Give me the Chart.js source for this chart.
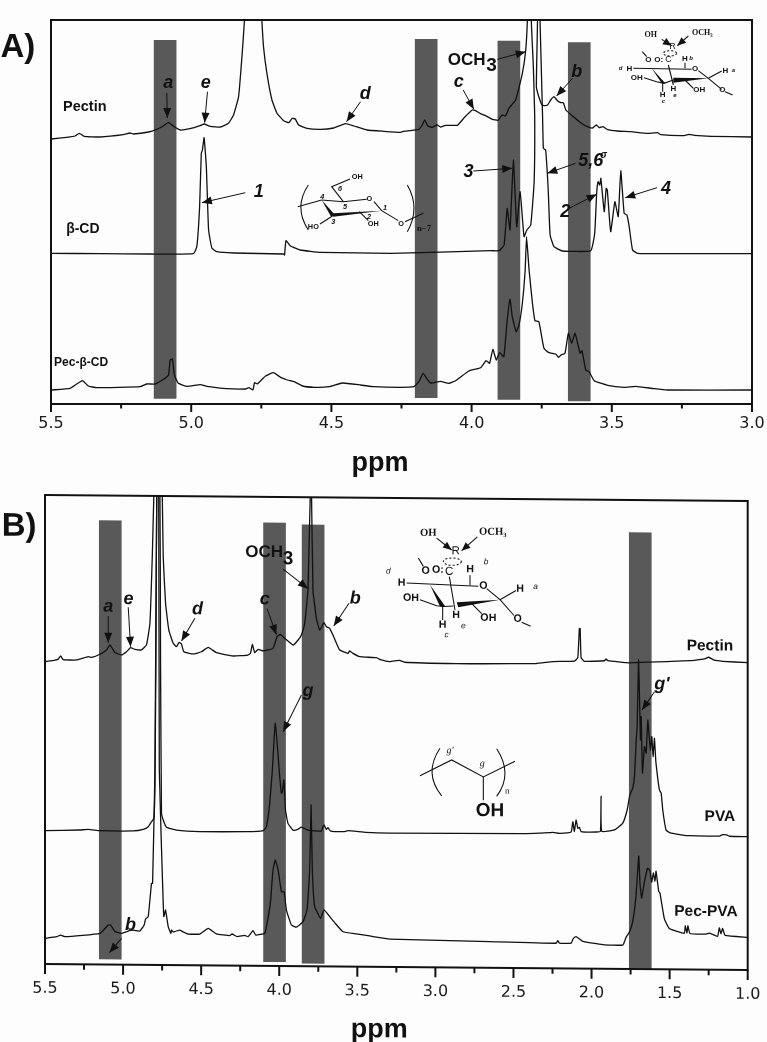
<!DOCTYPE html>
<html>
<head>
<meta charset="utf-8">
<title>1H NMR spectra</title>
<script src="https://cdn.jsdelivr.net/npm/chart.js@4/dist/chart.umd.min.js"></script>
<style>
  html, body { margin: 0; padding: 0; background: #fdfdfd; overflow: hidden; }
  body { width: 767px; height: 1042px; position: relative; }
  canvas { position: absolute; left: 0; }
  #panelA { top: 0; }
  #panelB { top: 490px; }
</style>
</head>
<body>
<canvas id="panelA" width="767" height="490"></canvas>
<canvas id="panelB" width="767" height="552"></canvas>
<script>
// panel A: chemical shift (ppm) and trace height
const aPectinPpm = [5.498,5.444,5.414,5.399,5.382,5.325,5.242,5.218,5.206,5.152,5.123,5.099,5.081,5.063,5.039,5.004,4.968,4.954,4.932,4.896,4.867,4.849,4.831,4.819,4.810,4.795,4.765,4.748,4.742,4.730,4.712,4.694,4.670,4.652,4.640,4.629,4.617,4.587,4.539,4.492,4.450,4.420,4.373,4.313,4.254,4.242,4.188,4.176,4.167,4.156,4.140,4.123,4.111,4.093,4.051,4.025,3.998,3.986,3.970,3.950,3.926,3.906,3.891,3.879,3.867,3.843,3.819,3.807,3.801,3.795,3.772,3.765,3.769,3.760,3.748,3.730,3.718,3.706,3.694,3.682,3.673,3.664,3.640,3.611,3.587,3.569,3.555,3.545,3.531,3.515,3.480,3.432,3.373,3.337,3.325,3.242,3.224,3.206,3.146,3.0];
const aPectinInt = [265,266.7,268,270.7,267.7,267,269.3,271,270,272,274.7,278,281.7,277.7,274,275.3,278.3,280,277.7,277,280.7,289,307.3,347.3,384,480,480,384,357,330.7,304,290.7,283.3,281.3,285.7,285,279,275.7,274.7,276,280.3,278,274,272.7,271.7,272.7,274.7,279,284,278,276.7,279,277,278.7,278.7,286.7,294,293.3,290.7,288.3,284.7,283.7,289,288,295.7,304,330.7,354,384,450,450,384,317.3,307,298.7,298.7,304,307.3,303.3,301.3,301.3,294,288,281.3,277.3,276,279,276.3,277.3,274.3,273,272.3,270.7,271.3,269.3,268.3,269.7,268.7,267.7,267];

const aCdPpm = [5.498,5.325,5.146,4.992,4.980,4.970,4.964,4.960,4.954,4.946,4.938,4.926,4.908,4.849,4.670,4.667,4.662,4.646,4.611,4.539,4.289,3.932,3.902,3.884,3.873,3.863,3.851,3.839,3.827,3.813,3.803,3.789,3.777,3.775,3.78,3.787,3.78,3.762,3.756,3.747,3.744,3.736,3.727,3.72,3.706,3.676,3.575,3.561,3.554,3.549,3.543,3.539,3.527,3.520,3.516,3.504,3.489,3.477,3.468,3.456,3.446,3.438,3.426,3.408,3.337,3.0];
const aCdInt = [150.7,150.3,150,150.3,157.3,197.3,250.7,254,266.3,237.3,174,155.7,152.3,151,150,149,163.3,158,154,151.7,150.7,153.3,153.3,159,195.7,174,244,177.3,212.3,167.3,174,179,222,289,339,384,450,450,384,289,255.7,254,215.7,169,157.3,153,153.3,170.7,210.7,222.3,219,225.7,192.3,215.7,214,172.3,202.3,187.3,233.3,190.7,189,177.3,154,150.7,150.3,150.3];

const aPecCdPpm = [5.498,5.432,5.408,5.388,5.367,5.337,5.182,5.158,5.129,5.099,5.081,5.075,5.067,5.060,5.046,5.015,4.968,4.944,4.873,4.806,4.794,4.780,4.774,4.764,4.735,4.707,4.681,4.657,4.633,4.603,4.561,4.508,4.461,4.396,4.349,4.254,4.206,4.188,4.173,4.158,4.146,4.111,4.081,4.057,4.010,3.968,3.948,3.936,3.924,3.912,3.900,3.885,3.873,3.863,3.855,3.841,3.831,3.819,3.809,3.804,3.795,3.783,3.774,3.760,3.742,3.724,3.700,3.690,3.680,3.667,3.655,3.643,3.631,3.613,3.606,3.593,3.581,3.563,3.515,3.456,3.414,3.349,3.301,3.0];
const aPecCdInt = [14,15.7,20,23.3,18,16.3,17.3,20,20,24.7,29,44,45,29,20.7,17.7,19.3,17.7,15.3,15,16.3,14,21.3,20,28,31.3,26.7,24,22.3,18,16.7,17.3,21,19,17.3,16.7,17.3,22.3,30.7,24.7,21,22.7,20.7,23.3,33,36.3,43.3,40.7,54.7,44,51.3,47.3,84,104.7,87.3,72.3,79,100.7,134,167.3,134,100.7,83.3,82.3,55.7,51.3,50,46.7,49.3,50.7,70.7,60.7,70.7,50.7,53.3,34,32.3,23.3,18.7,16.7,17.7,15.3,14,14];

// panel B
const bPectinPpm = [5.5,5.436,5.415,5.40,5.383,5.297,5.223,5.2,5.148,5.106,5.084,5.052,5.01,4.978,4.952,4.924,4.882,4.85,4.828,4.813,4.803,4.79,4.765,4.749,4.743,4.728,4.707,4.679,4.658,4.641,4.626,4.611,4.551,4.498,4.455,4.402,4.295,4.2,4.184,4.172,4.157,4.135,4.104,4.04,4.014,3.993,3.965,3.911,3.879,3.858,3.837,3.816,3.8,3.794,3.784,3.762,3.741,3.713,3.698,3.677,3.656,3.613,3.56,3.549,3.528,3.485,3.378,3.346,3.293,3.25,3.229,3.197,2.867,2.685,2.355,2.248,2.109,2.088,2.078,2.073,2.067,2.046,1.918,1.907,1.896,1.758,1.374,1.331,1.278,1.25,1.214,1.161,1.0];
const bPectinInt = [302.3,304,305,308.2,304.5,304.3,307.7,307,310.2,314.5,319.6,312,309.7,313,317,315.4,315,320,341.6,408.2,469,520,520,469,408.3,361.7,335,321.8,318.4,322.8,321.2,313.5,311.3,313.6,318,312.8,309.6,310.7,312.4,321.5,313.1,316.5,314.9,317.6,329.3,331.7,327.7,321.1,326.2,331.2,342.9,376.2,480,480,376.3,348,336.3,343.7,339.7,338.1,331.5,316.5,313.3,315.6,313.3,310,309.1,306.9,305.3,306.3,306.7,304.8,303.8,304,304.7,306.7,307.5,311,340,340,311,307.3,308,309.8,308.1,306.2,308.8,309.5,310.7,312.4,309.5,308.5,307.3];

const bPvaPpm = [5.5,5.276,5.223,5.148,4.935,4.871,4.839,4.818,4.803,4.796,4.79,4.783,4.765,4.76,4.754,4.743,4.722,4.658,4.509,4.21,4.103,4.082,4.061,4.044,4.025,3.997,3.986,3.98,3.97,3.96,3.944,3.912,3.881,3.858,3.816,3.73,3.72,3.713,3.698,3.688,3.671,3.581,3.56,3.442,3.293,2.44,2.334,2.248,2.206,2.131,2.12,2.11,2.099,2.088,2.078,2.067,1.971,1.943,1.939,1.935,1.853,1.8,1.772,1.757,1.746,1.736,1.725,1.714,1.708,1.699,1.691,1.687,1.682,1.674,1.661,1.65,1.64,1.623,1.614,1.606,1.597,1.589,1.58,1.572,1.565,1.554,1.544,1.523,1.501,1.416,1.374,1.182,1.161,1.135,1.118,1.0];
const bPvaInt = [133.3,134.3,135,133.8,133.8,135.5,138.2,143.2,146.5,178,300,500,500,300,151.7,145,137.7,135,133.7,134,135.2,139.2,162.6,196,242.7,189.3,172.7,174.3,186,156,142.7,136,136.8,139,136.2,135.3,139.7,141.4,137,138.7,135.4,135,136,134.4,133.9,134.4,135,136,135.1,136.5,146.9,137,148.5,140.2,141.3,137,136.7,137.5,172.5,137.5,138.9,145.8,159,172.4,177.4,180.7,192.4,228.9,242.4,309.1,259.1,229.1,252.5,195.9,222.5,215.9,249.2,219.2,232.6,212.6,230.9,209.2,195.9,185.9,179.3,176,159.3,139.3,136.8,134.4,133.8,133.7,135.1,134.9,133.6,133.3];

const bPecPvaPpm = [5.5,5.425,5.4,5.372,5.148,5.095,5.08,5.052,5.01,4.967,4.946,4.892,4.865,4.856,4.839,4.818,4.811,4.796,4.783,4.772,4.768,4.743,4.739,4.728,4.711,4.694,4.69,4.679,4.636,4.619,4.583,4.509,4.455,4.402,4.317,4.302,4.27,4.221,4.2,4.168,4.15,4.093,4.082,4.057,4.04,4.025,4.007,3.986,3.969,3.954,3.922,3.89,3.848,3.822,3.805,3.796,3.788,3.773,3.735,3.713,3.677,3.645,3.592,3.506,3.421,3.293,2.653,2.227,2.216,2.206,2.131,2.116,2.099,2.056,1.928,1.8,1.779,1.758,1.737,1.715,1.698,1.69,1.679,1.662,1.641,1.626,1.615,1.604,1.594,1.587,1.57,1.562,1.534,1.502,1.406,1.4,1.389,1.383,1.37,1.267,1.246,1.193,1.182,1.171,1.161,1.144,1.0];
const bPecPvaInt = [25.7,27.4,29.1,27.5,31.2,39.5,39.6,33,31.3,33.7,34.7,33.8,39.8,45.8,48.2,81.6,81.6,195,500,500,195,61.7,48.4,55,38.4,31.8,35.1,33.1,35.1,33.5,31.2,31.3,37.1,31.5,30,31.6,29,30.4,29,35.1,30.8,32.5,39.2,62.6,95.9,106,96,74.3,74.4,56,41.1,39,44.5,56.2,96.2,161.3,96.3,59.6,48,56.4,49.8,43.8,34.8,32.7,30.8,27.9,26.1,25.1,27.8,25.2,25.3,30.2,32,27.3,24.1,23.9,31.6,36.7,46.8,73.6,113,85.8,70.8,86.8,100.8,98.5,87,96.2,88,98,78,76.3,50.7,40.8,36.2,43.9,36.2,44,36,35.5,36.5,33.4,41.9,36,41.3,34.4,32.7];

// shaded bands: centre ppm, low, high
const aBandPpm = [5.093, 4.162, 3.867, 3.616];
const aBandLow = [5.7, 6.3, 4.7, 3];
const aBandHigh = [363.7, 364.7, 363, 361.3];
const bBandPpm = [5.082, 4.03, 3.783, 1.688];
const bBandLow = [5.5, 4.3, 3, 0];
const bBandHigh = [443.8, 443, 441.3, 436.3];

const SANS = '"Liberation Sans", Arial, sans-serif';
const SERIF = '"Liberation Serif", serif';
const PEAK = 'italic bold 18px ' + SANS;

// text, ppm, height, font, align
const aLabels = [
  ['A)', 5.618, 356, 'bold 33px ' + SANS],
  ['Pectin', 5.457, 297, 'bold 14.5px ' + SANS, 'left'],
  ['β-CD', 5.446, 175, 'bold 14px ' + SANS, 'left'],
  ['Pec-β-CD', 5.489, 41.3, 'bold 12px ' + SANS, 'left'],
  ['a', 5.082, 321, PEAK], ['e', 4.948, 321, PEAK], ['d', 4.379, 310, PEAK],
  ['1', 4.759, 212, PEAK], ['c', 4.046, 322, PEAK], ['b', 3.625, 332, PEAK],
  ['3', 4.011, 232, PEAK], ['5,6', 3.575, 243, PEAK], ['σ', 3.529, 249, 'italic bold 10px ' + SANS],
  ['2', 3.666, 192, PEAK], ['4', 3.307, 215, PEAK],
  ['OCH', 4.018, 344, 'bold 17px ' + SANS], ['3', 3.929, 338, 'bold 19px ' + SANS],
  ['ppm', 4.327, -60, 'bold 27px ' + SANS]
];
const bLabels = [
  ['B)', 5.666, 437, 'bold 33px ' + SANS],
  ['a', 5.095, 358, PEAK], ['e', 4.965, 365.7, PEAK], ['d', 4.523, 356, PEAK],
  ['c', 4.093, 366.5, PEAK], ['b', 3.513, 368, PEAK], ['g', 3.816, 275.2, PEAK],
  ["g'", 1.549, 284.9, PEAK], ['b', 4.952, 39.7, PEAK],
  ['OCH', 4.097, 413.5, 'bold 17px ' + SANS], ['3', 3.943, 407, 'bold 19px ' + SANS],
  ['Pectin', 1.242, 323.6, 'bold 15.5px ' + SANS],
  ['PVA', 1.178, 153, 'bold 15.5px ' + SANS],
  ['Pec-PVA', 1.267, 57.9, 'bold 15.5px ' + SANS],
  ['ppm', 3.36, -63, 'bold 27px ' + SANS]
];

// ppm from, height from, ppm to, height to
const aArrows = [
  [5.087,311,5.085,286],[4.942,312.3,4.952,281.3],[4.396,302.3,4.446,282.3],
  [4.807,211.3,4.962,201.3],[3.908,344.7,3.807,352.3],[4.03,314,3.992,294.7],
  [3.64,325.7,3.697,308],[3.994,233,3.855,235.7],[3.629,240.7,3.73,230.7],
  [3.652,195.7,3.554,209.7],[3.339,216.3,3.452,206.3]
];
const bArrows = [
  [5.095,348.5,5.095,321.8],[4.967,357.4,4.952,318],[4.54,347,4.626,324.2],
  [4.078,357.2,4.018,331.3],[3.975,397,3.816,377.6],[3.553,363.3,3.651,340.5],
  [3.858,271.2,3.975,234.3],[1.598,277.2,1.677,259.1],[5.01,26.3,5.088,11.9]
];

// structure sketches, in 1/3 pixel units
const cdFont = 'bold 22px ' + SANS, cdNum = 'italic bold 22px ' + SANS;
const cdSketch = {
  at: [0, 0],
  lines: [[893,620,965,600],[965,600,1030,605,1100,598],[1122,605,1145,632,1195,662],[1002,645,960,672],
    [1078,635,1105,662],[1030,605,995,560,1050,537],[1215,665,1270,640]],
  curves: [[925,555,880,622,925,690],[1222,555,1262,625,1222,695]],
  wedges: [[965,600,1008,648,992,648],[1000,640,1145,632,1000,650]],
  texts: [['OH',1072,532,cdFont],['HO',940,680,cdFont],['OH',1120,672,cdFont],['O',1108,598,cdFont],['O',1203,672,cdFont],
    ['4',967,592,cdNum],['6',1020,567,cdNum],['5',1035,620,cdNum],['3',1000,665,cdNum],['2',1107,650,cdNum],['1',1155,625,cdNum],
    ['n−7',1272,685,'bold 26px ' + SERIF]]
};
const pecFont = 'bold 24px ' + SANS, pecTag = 'italic bold 18px ' + SANS;
const pecSketchA = {
  at: [390, 0],
  lines: [[757,155,770,170],[730,205,905,208],[925,212,955,235,995,268],[1005,275,1028,285],[955,235,995,213],
    [762,233,800,245,822,250,850,240],[818,250,818,275],[835,195,850,255],[885,188,885,205],[885,240,910,265]],
  wedges: [[785,205,826,250,815,250],[850,233,955,235,850,248]],
  ellipse: [840,160,20,8],
  arrows: [[815,118,845,137],[895,108,862,137]],
  texts: [['OH',782,105,'bold 24px ' + SERIF],['OCH₃',937,100,'bold 24px ' + SERIF],['R',848,140,'26px ' + SANS],
    ['O',775,178,pecFont],['O:',806,178,pecFont],['C',835,180,'26px ' + SANS],['H',885,177,pecFont],['b',903,175,pecTag],
    ['d',692,205,pecTag],['H',718,205,pecFont],['O',915,207,pecFont],['O',997,270,pecFont],['H',1006,212,pecFont],['a',1030,212,pecTag],
    ['OH',740,232,pecFont],['H',818,285,pecFont],['c',820,303,pecTag],['H',850,265,pecFont],['OH',928,270,pecFont],['e',855,285,pecTag]]
};
const pecFontB = 'bold 32px ' + SANS, pecTagB = 'italic 25px ' + SANS;
const pecSketchB = {
  at: [390, -3.5],
  lines: [[85,205,100,230],[50,280,265,288],[290,295,330,328,372,375],[395,395,422,407],[330,328,378,300],
    [90,330,140,348,160,350,190,348],[158,350,158,390],[178,260,195,360],[240,255,240,285],[240,335,275,370]],
  wedges: [[120,285,166,350,150,350],[200,337,330,328,205,352]],
  ellipse: [187,215,27,11],
  arrows: [[140,145,185,180],[262,140,215,182]],
  texts: [['OH',115,130,'bold 32px ' + SERIF],['OCH₃',308,125,'bold 32px ' + SERIF],['R',197,183,'35px ' + SANS],
    ['O',107,243,pecFontB],['O:',144,240,pecFontB],['C',178,245,'35px ' + SANS],['H',240,238,pecFontB],['b',288,215,pecTagB],
    ['d',-5,245,pecTagB],['H',35,280,pecFontB],['O',280,287,pecFontB],['H',390,295,pecFontB],['a',437,288,pecTagB],
    ['O',383,385,pecFontB],['OH',63,325,pecFontB],['H',158,405,pecFontB],['c',170,435,pecTagB],['H',198,375,pecFontB],
    ['e',220,408,pecTagB],['OH',295,383,pecFontB]]
};
const pvaSketch = {
  at: [390, -3.5],
  lines: [[90,858,185,810,280,860,375,812],[280,860,280,930]],
  curves: [[150,775,100,850,155,918],[320,775,370,850,320,918]],
  texts: [["g'",180,782,'italic 30px ' + SERIF],['g',277,820,'italic 30px ' + SERIF],['OH',300,962,'bold 57px ' + SANS],['n',352,902,'27px ' + SERIF]]
};

function toPoints(xs, ys) {
  return xs.map((x, i) => ({x: x, y: ys[i]}));
}

function drawHead(ctx, x1, y1, x2, y2, len, half) {
  const a = Math.atan2(y2 - y1, x2 - x1);
  ctx.beginPath();
  ctx.moveTo(x2, y2);
  ctx.lineTo(x2 - len * Math.cos(a) + half * Math.sin(a), y2 - len * Math.sin(a) - half * Math.cos(a));
  ctx.lineTo(x2 - len * Math.cos(a) - half * Math.sin(a), y2 - len * Math.sin(a) + half * Math.cos(a));
  ctx.closePath();
  ctx.fill();
}

function drawSketch(ctx, s) {
  ctx.save();
  ctx.translate(s.at[0], s.at[1]);
  ctx.scale(1 / 3, 1 / 3);
  ctx.strokeStyle = '#111';
  ctx.fillStyle = '#111';
  ctx.lineWidth = 3.2;
  (s.lines || []).forEach(l => {
    ctx.beginPath();
    ctx.moveTo(l[0], l[1]);
    for (let i = 2; i < l.length; i += 2) ctx.lineTo(l[i], l[i + 1]);
    ctx.stroke();
  });
  (s.curves || []).forEach(c => {
    ctx.beginPath();
    ctx.moveTo(c[0], c[1]);
    ctx.quadraticCurveTo(c[2], c[3], c[4], c[5]);
    ctx.stroke();
  });
  (s.wedges || []).forEach(w => {
    ctx.beginPath();
    ctx.moveTo(w[0], w[1]);
    ctx.lineTo(w[2], w[3]);
    ctx.lineTo(w[4], w[5]);
    ctx.closePath();
    ctx.fill();
  });
  if (s.ellipse) {
    const e = s.ellipse;
    ctx.setLineDash([6, 6]);
    ctx.beginPath();
    ctx.ellipse(e[0], e[1], e[2], e[3], 0, 0, Math.PI * 2);
    ctx.stroke();
    ctx.setLineDash([]);
  }
  (s.arrows || []).forEach(a => {
    ctx.beginPath();
    ctx.moveTo(a[0], a[1]);
    ctx.lineTo(a[2], a[3]);
    ctx.stroke();
    drawHead(ctx, a[0], a[1], a[2], a[3], 26, 11);
  });
  ctx.textAlign = 'center';
  ctx.textBaseline = 'middle';
  s.texts.forEach(t => {
    ctx.font = t[3];
    ctx.fillText(t[0], t[1], t[2]);
  });
  ctx.restore();
}

// frame, tick marks, labels, arrows and sketches
const decorate = {
  id: 'decorate',
  afterDraw(chart, args, opts) {
    const ctx = chart.ctx, area = chart.chartArea;
    const xs = chart.scales.x, ys = chart.scales.y;
    ctx.save();
    ctx.strokeStyle = '#111';
    ctx.fillStyle = '#111';
    ctx.lineWidth = 2;
    ctx.strokeRect(area.left, area.top, area.right - area.left, area.bottom - area.top);
    xs.ticks.forEach(t => {
      const x = xs.getPixelForValue(t.value);
      const major = t.label !== '';
      ctx.beginPath();
      ctx.moveTo(x, area.bottom);
      ctx.lineTo(x, area.bottom + (major ? opts.majorTick : opts.minorTick));
      ctx.stroke();
    });
    ctx.lineWidth = 1;
    opts.arrows.forEach(a => {
      const x1 = xs.getPixelForValue(a[0]), y1 = ys.getPixelForValue(a[1]);
      const x2 = xs.getPixelForValue(a[2]), y2 = ys.getPixelForValue(a[3]);
      ctx.beginPath();
      ctx.moveTo(x1, y1);
      ctx.lineTo(x2, y2);
      ctx.stroke();
      drawHead(ctx, x1, y1, x2, y2, 10, 4);
    });
    ctx.textBaseline = 'middle';
    opts.labels.forEach(l => {
      ctx.font = l[3];
      ctx.textAlign = l[4] || 'center';
      ctx.fillText(l[0], xs.getPixelForValue(l[1]), ys.getPixelForValue(l[2]));
    });
    ctx.restore();
    opts.sketches.forEach(s => drawSketch(ctx, s));
  }
};

// the lower panel of the source figure runs slightly downhill
const shear = {
  id: 'shear',
  beforeDraw(chart, args, opts) {
    chart.ctx.save();
    chart.ctx.transform(1, opts.slope, 0, 1, 0, -opts.slope * chart.chartArea.left);
  },
  afterDraw(chart) {
    chart.ctx.restore();
  }
};

function traceSet(xs, ys) {
  return {
    type: 'scatter',
    data: toPoints(xs, ys),
    showLine: true,
    borderColor: '#111',
    borderWidth: 1.3,
    pointRadius: 0,
    tension: 0.12,
    order: 1
  };
}

function bandSet(centres, lows, highs) {
  return {
    type: 'bar',
    data: centres.map((c, i) => ({x: c, y: [lows[i], highs[i]]})),
    backgroundColor: '#595959',
    borderWidth: 0,
    barThickness: 22,
    grouped: false,
    order: 2
  };
}

function makePanel(id, spec) {
  return new Chart(document.getElementById(id), {
    type: 'scatter',
    data: {datasets: spec.datasets},
    plugins: [decorate, shear],
    options: {
      responsive: false,
      animation: false,
      devicePixelRatio: 1,
      layout: {padding: spec.padding},
      plugins: {
        legend: {display: false},
        tooltip: {enabled: false},
        shear: {slope: spec.slope},
        decorate: {
          labels: spec.labels, arrows: spec.arrows, sketches: spec.sketches,
          majorTick: spec.majorTick, minorTick: spec.minorTick
        }
      },
      scales: {
        x: {
          type: 'linear',
          reverse: true,
          offset: false,
          min: spec.xMin,
          max: 5.5,
          grid: {display: false, offset: false, drawTicks: false},
          border: {display: false},
          afterFit(scale) {
            scale.height = spec.axisHeight;
            scale.paddingLeft = 0;
            scale.paddingRight = 0;
          },
          ticks: {
            stepSize: 0.25,
            autoSkip: false,
            maxRotation: 0,
            padding: spec.tickPad,
            color: '#1a1a1a',
            font: {family: '"DejaVu Sans"', size: 16},
            callback: v => (Math.abs(v * 2 - Math.round(v * 2)) < 1e-6 ? v.toFixed(1) : '')
          }
        },
        y: {
          type: 'linear',
          display: false,
          min: 0,
          max: spec.yMax
        }
      }
    }
  });
}

makePanel('panelA', {
  padding: {left: 51, right: 15, top: 20, bottom: 0},
  axisHeight: 86,
  xMin: 3.0,
  yMax: 384,
  slope: 0,
  tickPad: 10.5,
  majorTick: 8,
  minorTick: 4.5,
  labels: aLabels,
  arrows: aArrows,
  sketches: [cdSketch, pecSketchA],
  datasets: [
    bandSet(aBandPpm, aBandLow, aBandHigh),
    traceSet(aPectinPpm, aPectinInt),
    traceSet(aCdPpm, aCdInt),
    traceSet(aPecCdPpm, aPecCdInt)
  ]
});

makePanel('panelB', {
  padding: {left: 45, right: 19.3, top: 5, bottom: 0},
  axisHeight: 78,
  xMin: 1.0,
  yMax: 469,
  slope: 0.00853,
  tickPad: 15,
  majorTick: 10,
  minorTick: 5.5,
  labels: bLabels,
  arrows: bArrows,
  sketches: [pecSketchB, pvaSketch],
  datasets: [
    bandSet(bBandPpm, bBandLow, bBandHigh),
    traceSet(bPectinPpm, bPectinInt),
    traceSet(bPvaPpm, bPvaInt),
    traceSet(bPecPvaPpm, bPecPvaInt)
  ]
});
</script>
</body>
</html>
